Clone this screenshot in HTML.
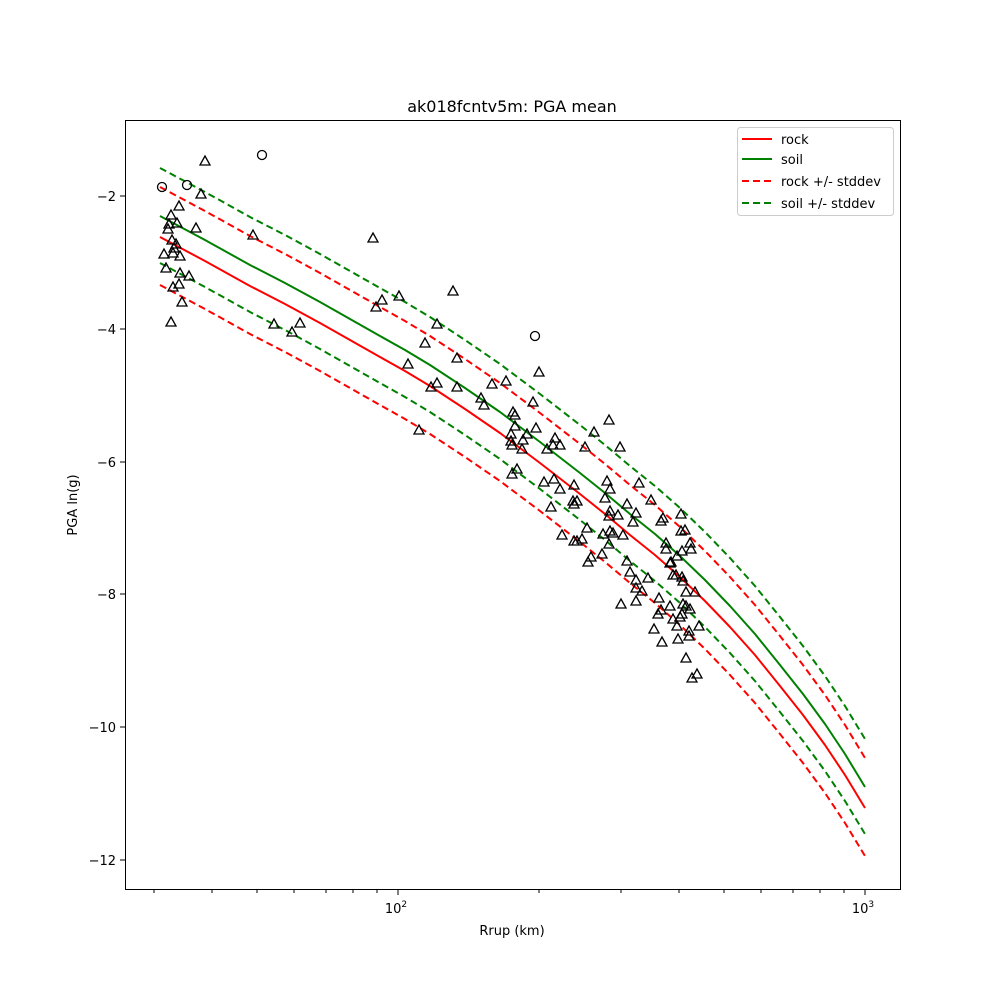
<!DOCTYPE html>
<html><head><meta charset="utf-8"><style>body{margin:0;background:#fff}svg{display:block;font-family:"DejaVu Sans","Liberation Sans",sans-serif}</style></head><body>
<svg width="1000" height="1000" viewBox="0 0 1000 1000" xmlns="http://www.w3.org/2000/svg">
<rect width="1000" height="1000" fill="#fff"/>
<defs>
<clipPath id="c"><rect x="125" y="120" width="775" height="770"/></clipPath>
<path id="r" d="M160,237 L205,261 L250,286 L285,304 L320,323 L350,340 L380,357 L405,371 L430,386 L465,409 L500,433 L540,463 L580,494 L605,514 L630,535 L655,555 L680,577 L705,601 L730,627 L755,655 L780,686 L803,715 L825,745 L845,775 L865,808" fill="none" stroke-linejoin="round"/>
</defs>
<g clip-path="url(#c)" stroke-width="2" fill="none">
<use href="#r" stroke="#ff0000"/>
<use href="#r" stroke="#008000" transform="translate(0,-21)"/>
<use href="#r" stroke="#ff0000" stroke-dasharray="7,4" transform="translate(0,-50)"/>
<use href="#r" stroke="#ff0000" stroke-dasharray="7,4" transform="translate(0,48)"/>
<use href="#r" stroke="#008000" stroke-dasharray="7,4" transform="translate(0,-69)"/>
<use href="#r" stroke="#008000" stroke-dasharray="7,4" transform="translate(0,26)"/>
</g>
<g fill="none" stroke="#000" stroke-width="1.3">
<circle cx="162" cy="187" r="4.5"/><circle cx="262" cy="155" r="4.5"/><circle cx="187" cy="185" r="4.5"/><circle cx="535" cy="336" r="4.5"/>
<path transform="translate(0,1)" d="M205,155l5,9h-10zM201,188l5,9h-10zM179,200l5,9h-10zM171,209l5,9h-10zM177,217l5,9h-10zM169,218l5,9h-10zM168,223l5,9h-10zM196,222l5,9h-10zM253,229l5,9h-10zM172,234l5,9h-10zM176,238l5,9h-10zM174,242l5,9h-10zM164,248l5,9h-10zM173,247l5,9h-10zM180,250l5,9h-10zM166,262l5,9h-10zM180,267l5,9h-10zM189,270l5,9h-10zM179,278l5,9h-10zM173,281l5,9h-10zM182,296l5,9h-10zM171,316l5,9h-10zM274,318l5,9h-10zM300,317l5,9h-10zM292,326l5,9h-10zM373,232l5,9h-10zM376,301l5,9h-10zM382,294l5,9h-10zM399,290l5,9h-10zM453,285l5,9h-10z
M437,318l5,9h-10zM425,337l5,9h-10zM408,358l5,9h-10zM457,352l5,9h-10zM539,366l5,9h-10zM492,378l5,9h-10zM506,375l5,9h-10zM431,381l5,9h-10zM437,377l5,9h-10zM457,381l5,9h-10zM481,392l5,9h-10zM484,399l5,9h-10zM533,396l5,9h-10zM419,424l5,9h-10zM513,406l5,9h-10zM515,409l5,9h-10zM515,420l5,9h-10zM511,428l5,9h-10zM511,435l5,9h-10zM512,439l5,9h-10zM522,443l5,9h-10zM523,434l5,9h-10zM527,428l5,9h-10zM536,422l5,9h-10zM555,432l5,9h-10zM553,439l5,9h-10zM560,439l5,9h-10zM547,443l5,9h-10zM517,463l5,9h-10zM512,468l5,9h-10zM594,426l5,9h-10zM609,414l5,9h-10zM585,441l5,9h-10zM620,441l5,9h-10zM544,476l5,9h-10zM554,473l5,9h-10zM574,479l5,9h-10zM560,483l5,9h-10zM607,475l5,9h-10zM639,477l5,9h-10zM610,483l5,9h-10zM551,501l5,9h-10zM573,495l5,9h-10zM577,495l5,9h-10zM574,498l5,9h-10zM605,492l5,9h-10zM627,498l5,9h-10zM651,494l5,9h-10zM610,505l5,9h-10zM609,510l5,9h-10zM618,509l5,9h-10zM636,507l5,9h-10zM633,516l5,9h-10zM663,512l5,9h-10zM661,515l5,9h-10zM681,508l5,9h-10zM681,525l5,9h-10zM685,524l5,9h-10zM666,537l5,9h-10zM690,537l5,9h-10zM666,543l5,9h-10zM682,545l5,9h-10zM691,543l5,9h-10zM677,550l5,9h-10zM671,556l5,9h-10zM670,557l5,9h-10zM587,522l5,9h-10zM562,529l5,9h-10zM577,535l5,9h-10zM574,535l5,9h-10zM582,533l5,9h-10zM603,528l5,9h-10zM610,525l5,9h-10zM613,527l5,9h-10zM623,529l5,9h-10zM609,538l5,9h-10zM602,548l5,9h-10zM591,551l5,9h-10zM588,556l5,9h-10zM627,555l5,9h-10zM630,566l5,9h-10zM648,572l5,9h-10zM636,574l5,9h-10zM636,582l5,9h-10zM642,585l5,9h-10zM673,569l5,9h-10zM682,571l5,9h-10zM683,575l5,9h-10zM676,569l5,9h-10zM686,586l5,9h-10zM695,586l5,9h-10zM659,592l5,9h-10zM670,600l5,9h-10zM683,598l5,9h-10zM690,603l5,9h-10zM686,600l5,9h-10zM621,598l5,9h-10zM636,595l5,9h-10zM661,604l5,9h-10zM658,608l5,9h-10zM682,608l5,9h-10zM680,611l5,9h-10zM673,613l5,9h-10zM699,620l5,9h-10zM677,620l5,9h-10zM689,625l5,9h-10zM689,630l5,9h-10zM654,623l5,9h-10zM662,636l5,9h-10zM678,633l5,9h-10zM686,652l5,9h-10zM697,668l5,9h-10zM692,672l5,9h-10z"/>
</g>
<rect x="125.5" y="120.5" width="775" height="769" fill="none" stroke="#000" stroke-width="1"/>
<g stroke="#000" stroke-width="1">
<path d="M125,196h-5M125,329h-5M125,462h-5M125,594h-5M125,727h-5M125,860h-5M398,890v5M865,890v5"/>
<path d="M154,890v3M212,890v3M257,890v3M294,890v3M326,890v3M353,890v3M377,890v3M539,890v3M621,890v3M679,890v3M724,890v3M761,890v3M793,890v3M820,890v3M844,890v3"/>
</g>
<g font-size="13" fill="#000" text-anchor="end">
<text x="116" y="201">−2</text><text x="116" y="334">−4</text><text x="116" y="467">−6</text><text x="116" y="599">−8</text><text x="116" y="732">−10</text><text x="116" y="865">−12</text>
</g>
<g font-size="13" fill="#000" text-anchor="middle">
<text x="396" y="913">10<tspan font-size="9" dy="-6">2</tspan></text>
<text x="863" y="913">10<tspan font-size="9" dy="-6">3</tspan></text>
<text x="512" y="935">Rrup (km)</text>
<text x="77" y="505" transform="rotate(-90 77 505)">PGA ln(g)</text>
<text x="512" y="112" font-size="16">ak018fcntv5m: PGA mean</text>
</g>
<rect x="737.5" y="127.5" width="156" height="88" rx="3" fill="#fff" stroke="#ccc"/>
<g stroke-width="2">
<path d="M742,139h30" stroke="#ff0000"/><path d="M742,159h30" stroke="#008000"/>
<path d="M742,181h30" stroke="#ff0000" stroke-dasharray="7,4"/><path d="M742,203h30" stroke="#008000" stroke-dasharray="7,4"/>
</g>
<g font-size="13" fill="#000">
<text x="781" y="144">rock</text><text x="781" y="164">soil</text><text x="781" y="186">rock +/- stddev</text><text x="781" y="208">soil +/- stddev</text>
</g>
</svg>
</body></html>
